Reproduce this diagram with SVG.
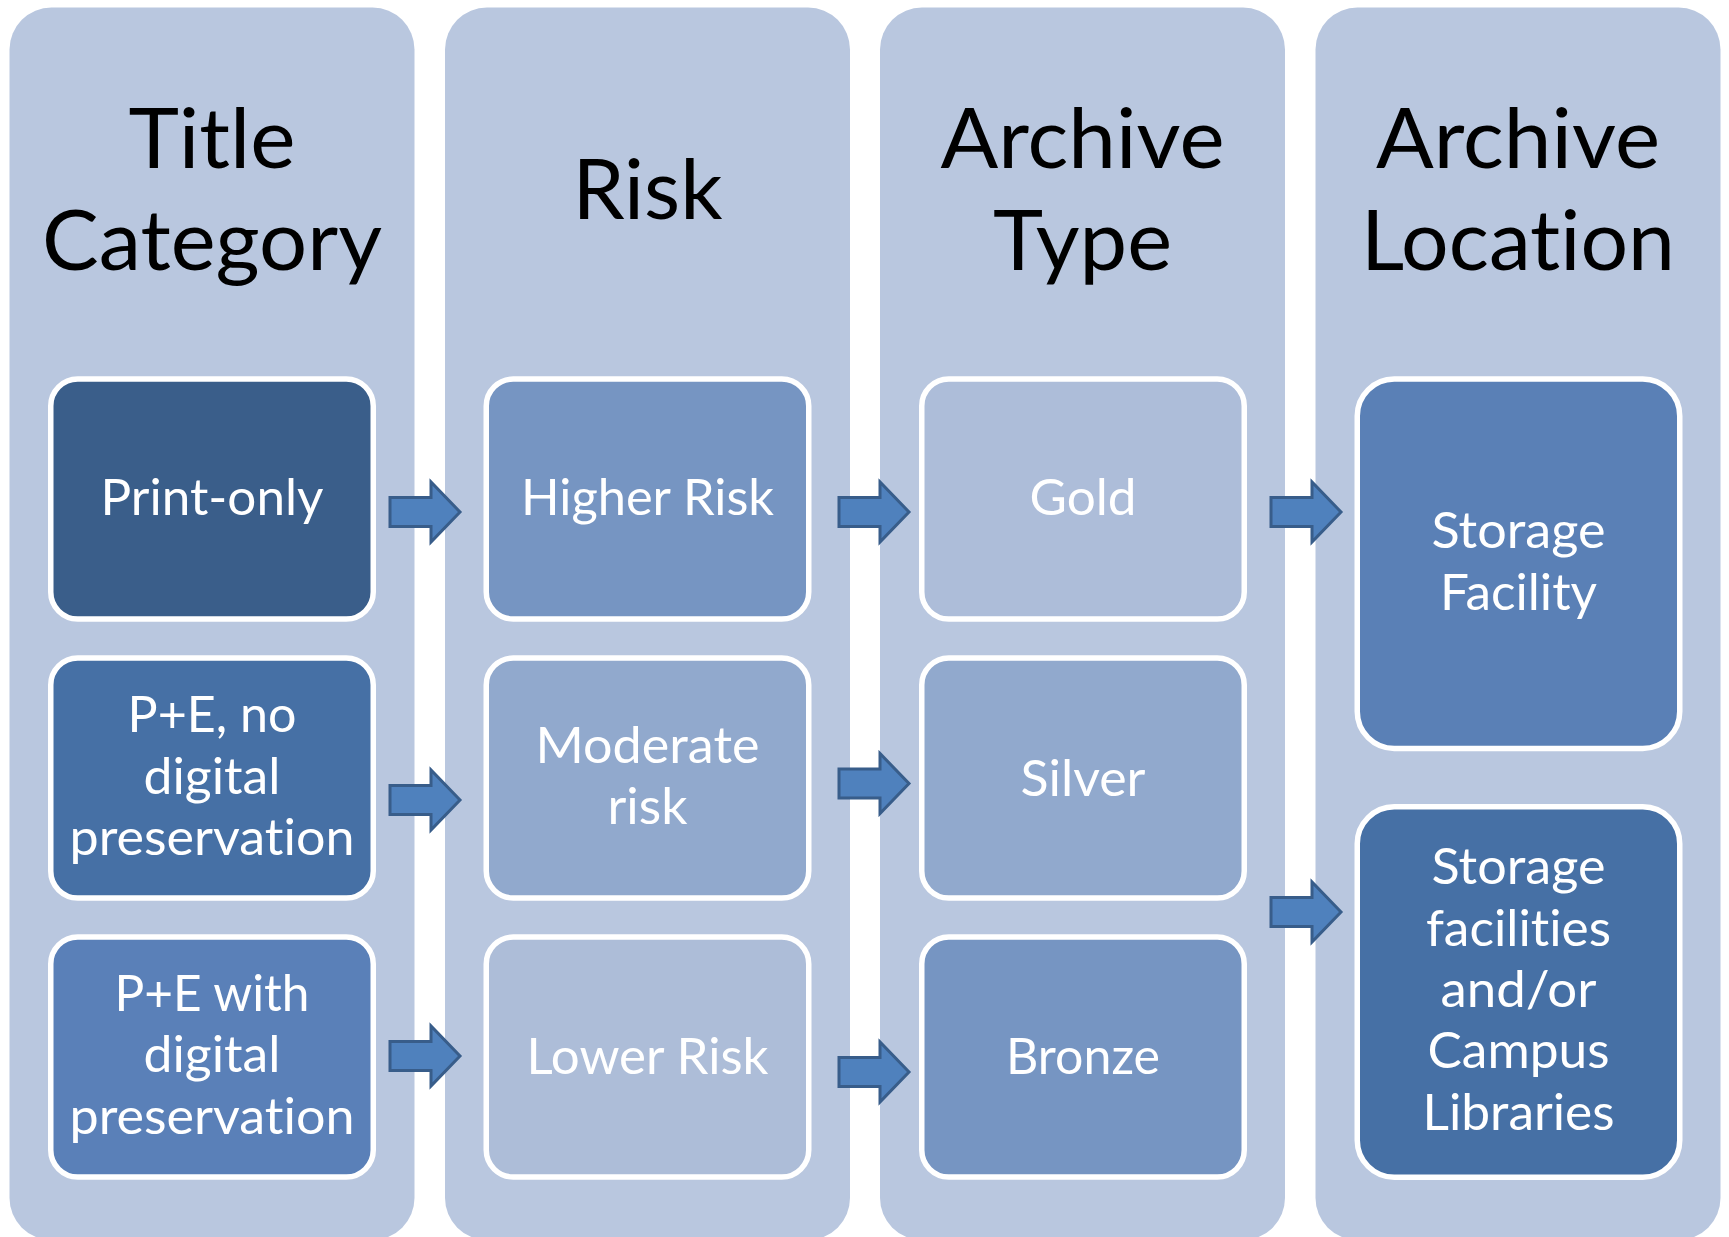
<svg xmlns="http://www.w3.org/2000/svg" width="1729" height="1237" viewBox="0 0 1729 1237">
<defs>
<style>
.col{fill:#B9C7DF;}
.node{stroke:#FFFFFF;stroke-width:5.5;}
.hdr{font-family:Lato,"Open Sans","Liberation Sans",sans-serif;font-size:83px;fill:#000000;text-anchor:middle;font-variant-ligatures:none;font-feature-settings:"liga" 0,"clig" 0,"dlig" 0;}
.lbl{font-family:Lato,"Open Sans","Liberation Sans",sans-serif;font-size:50px;fill:#FFFFFF;text-anchor:middle;font-variant-ligatures:none;font-feature-settings:"liga" 0,"clig" 0,"dlig" 0;}
.arr{fill:#4F81BD;stroke:#385D8A;stroke-width:3;stroke-linejoin:miter;}
</style>
<path id="arrow" d="M0,-14.5 H41 V-30 L70,0 L41,30 V14.5 H0 Z"/>
</defs>
<rect width="1729" height="1237" fill="#FFFFFF"/>

<g id="col-title-category">
<rect class="col" x="9.5" y="7.5" width="405" height="1232.5" rx="42"/>
<text class="hdr" x="212" y="167.7" textLength="167" lengthAdjust="spacingAndGlyphs">Title</text>
<text class="hdr" x="212" y="270" textLength="340" lengthAdjust="spacingAndGlyphs">Category</text>
</g>
<g id="col-risk">
<rect class="col" x="445" y="7.5" width="405" height="1232.5" rx="42"/>
<text class="hdr" x="647.5" y="219" textLength="150" lengthAdjust="spacingAndGlyphs">Risk</text>
</g>
<g id="col-archive-type">
<rect class="col" x="880" y="7.5" width="405" height="1232.5" rx="42"/>
<text class="hdr" x="1082.5" y="167.7" textLength="284" lengthAdjust="spacingAndGlyphs">Archive</text>
<text class="hdr" x="1082.5" y="270" textLength="179" lengthAdjust="spacingAndGlyphs">Type</text>
</g>
<g id="col-archive-location">
<rect class="col" x="1315.5" y="7.5" width="405" height="1232.5" rx="42"/>
<text class="hdr" x="1518" y="167.7" textLength="284" lengthAdjust="spacingAndGlyphs">Archive</text>
<text class="hdr" x="1518" y="270" textLength="314" lengthAdjust="spacingAndGlyphs">Location</text>
</g>

<g id="node-print-only">
<rect class="node" x="50.75" y="379" width="322.5" height="240" rx="27" fill="#3A5E8A"/>
<text class="lbl" x="212" y="514.5" textLength="223" lengthAdjust="spacingAndGlyphs">Print-only</text>
</g>
<g id="node-pe-no-digital">
<rect class="node" x="50.75" y="658" width="322.5" height="240" rx="27" fill="#4670A5"/>
<text class="lbl" x="212" y="732.3" textLength="169" lengthAdjust="spacingAndGlyphs">P+E, no</text>
<text class="lbl" x="212" y="793.6" textLength="137" lengthAdjust="spacingAndGlyphs">digital</text>
<text class="lbl" x="212" y="855" textLength="285" lengthAdjust="spacingAndGlyphs">preservation</text>
</g>
<g id="node-pe-with-digital">
<rect class="node" x="50.75" y="937" width="322.5" height="240" rx="27" fill="#5A80B8"/>
<text class="lbl" x="212" y="1011" textLength="195" lengthAdjust="spacingAndGlyphs">P+E with</text>
<text class="lbl" x="212" y="1072.3" textLength="137" lengthAdjust="spacingAndGlyphs">digital</text>
<text class="lbl" x="212" y="1134" textLength="285" lengthAdjust="spacingAndGlyphs">preservation</text>
</g>

<g id="node-higher-risk">
<rect class="node" x="486.25" y="379" width="322.5" height="240" rx="27" fill="#7695C2"/>
<text class="lbl" x="647.5" y="514.5" textLength="253" lengthAdjust="spacingAndGlyphs">Higher Risk</text>
</g>
<g id="node-moderate-risk">
<rect class="node" x="486.25" y="658" width="322.5" height="240" rx="27" fill="#91A9CD"/>
<text class="lbl" x="647.5" y="763.3" textLength="224" lengthAdjust="spacingAndGlyphs">Moderate</text>
<text class="lbl" x="647.5" y="824" textLength="80" lengthAdjust="spacingAndGlyphs">risk</text>
</g>
<g id="node-lower-risk">
<rect class="node" x="486.25" y="937" width="322.5" height="240" rx="27" fill="#ADBDD8"/>
<text class="lbl" x="647.5" y="1074" textLength="242" lengthAdjust="spacingAndGlyphs">Lower Risk</text>
</g>

<g id="node-gold">
<rect class="node" x="921.75" y="379" width="322.5" height="240" rx="27" fill="#ADBDD9"/>
<text class="lbl" x="1083" y="514.5" textLength="107" lengthAdjust="spacingAndGlyphs">Gold</text>
</g>
<g id="node-silver">
<rect class="node" x="921.75" y="658" width="322.5" height="240" rx="27" fill="#91A9CD"/>
<text class="lbl" x="1083" y="795.5" textLength="125" lengthAdjust="spacingAndGlyphs">Silver</text>
</g>
<g id="node-bronze">
<rect class="node" x="921.75" y="937" width="322.5" height="240" rx="27" fill="#7695C2"/>
<text class="lbl" x="1083" y="1074" textLength="154" lengthAdjust="spacingAndGlyphs">Bronze</text>
</g>

<g id="node-storage-facility">
<rect class="node" x="1357.25" y="379" width="322.5" height="369.5" rx="37" fill="#5A80B6"/>
<text class="lbl" x="1518.5" y="548.3" textLength="174" lengthAdjust="spacingAndGlyphs">Storage</text>
<text class="lbl" x="1518.5" y="610" textLength="157" lengthAdjust="spacingAndGlyphs">Facility</text>
</g>
<g id="node-storage-campus">
<rect class="node" x="1357.25" y="806.75" width="322.5" height="370.5" rx="37" fill="#4670A5"/>
<text class="lbl" x="1518.5" y="884.3" textLength="174" lengthAdjust="spacingAndGlyphs">Storage</text>
<text class="lbl" x="1518.5" y="945.7" textLength="185" lengthAdjust="spacingAndGlyphs">facilities</text>
<text class="lbl" x="1518.5" y="1006.7" textLength="156" lengthAdjust="spacingAndGlyphs">and/or</text>
<text class="lbl" x="1518.5" y="1068.3" textLength="182" lengthAdjust="spacingAndGlyphs">Campus</text>
<text class="lbl" x="1518.5" y="1130" textLength="192" lengthAdjust="spacingAndGlyphs">Libraries</text>
</g>

<g id="connectors">
<use href="#arrow" class="arr" transform="translate(390,512)"/>
<use href="#arrow" class="arr" transform="translate(390,800)"/>
<use href="#arrow" class="arr" transform="translate(390,1056)"/>
<use href="#arrow" class="arr" transform="translate(839,512)"/>
<use href="#arrow" class="arr" transform="translate(839,783.5)"/>
<use href="#arrow" class="arr" transform="translate(839,1072)"/>
<use href="#arrow" class="arr" transform="translate(1271,512)"/>
<use href="#arrow" class="arr" transform="translate(1271,912)"/>
</g>
</svg>
